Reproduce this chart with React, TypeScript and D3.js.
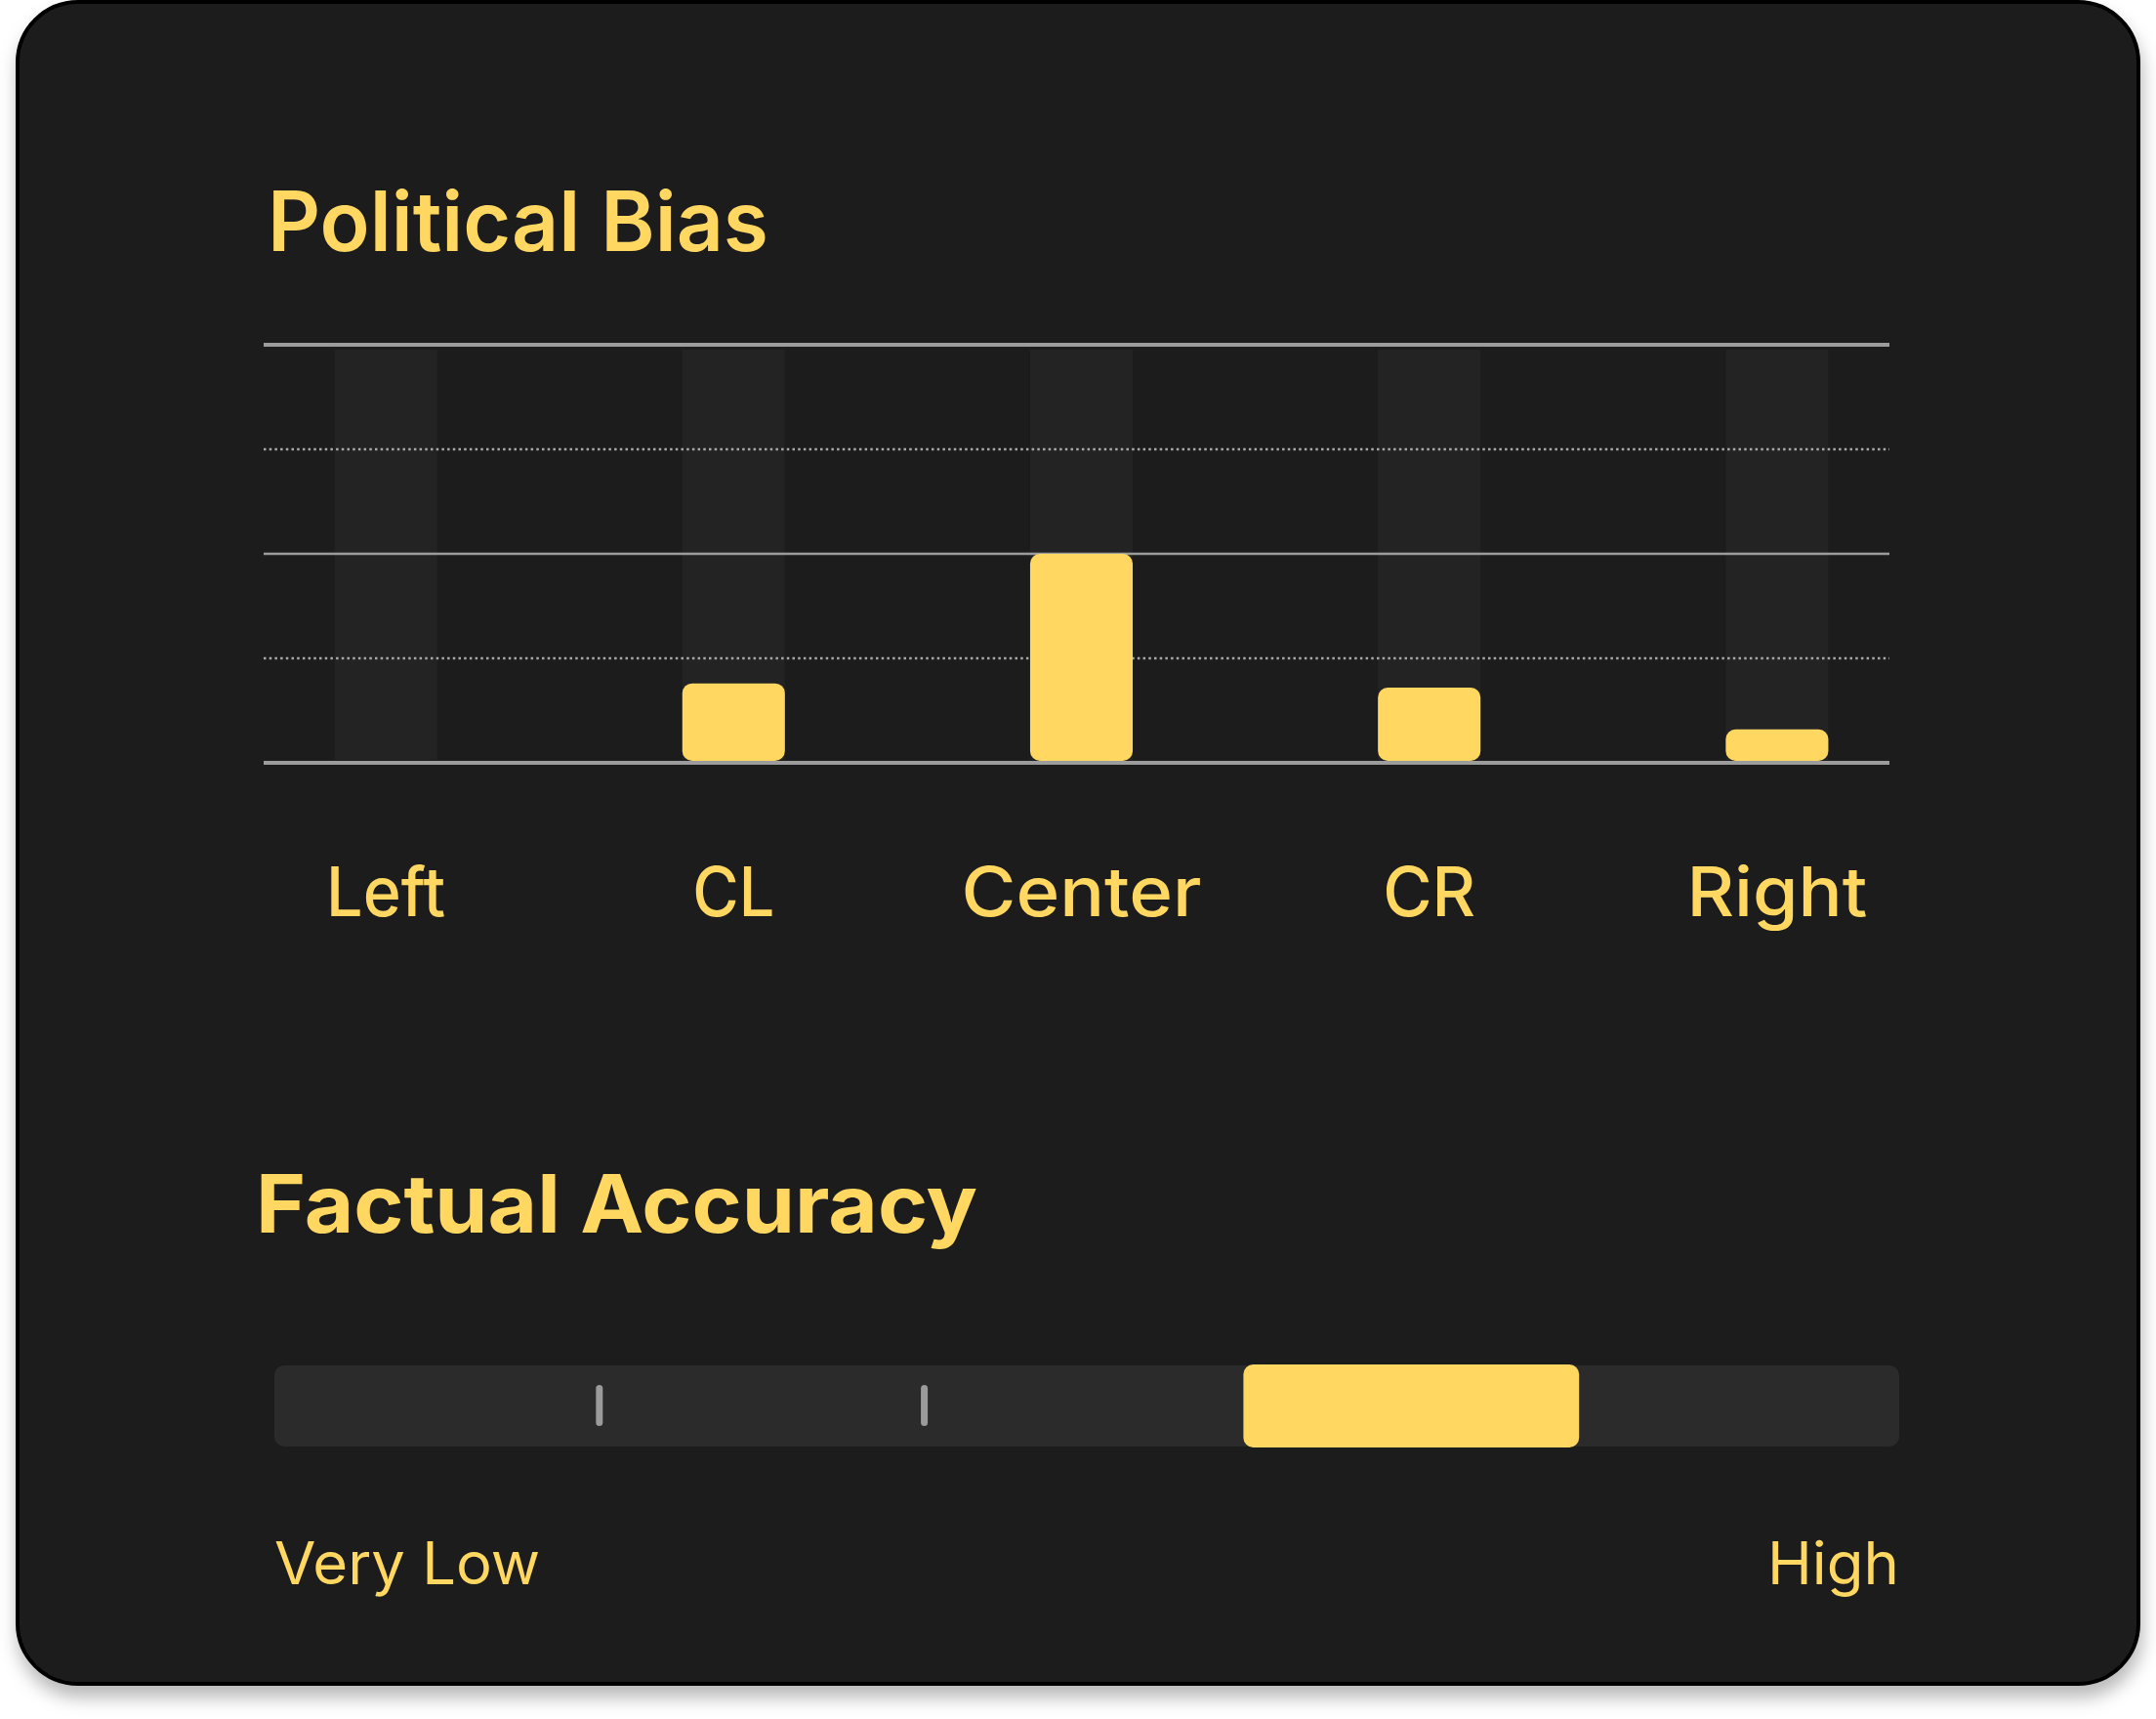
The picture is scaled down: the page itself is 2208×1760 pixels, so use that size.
import React from "react";
import * as d3 from "d3";

const categories = ["Left", "CL", "Center", "CR", "Right"];
const biasValues = [0, 19, 50, 18, 8];
const gridTicks = [0, 25, 50, 75, 100];
const accuracyLevels = ["Very Low", "Low", "Mixed", "Mostly Factual", "High"];
const accuracySelected = "Mostly Factual";
const accuracyEndLabels = ["Very Low", "High"];

const W = 2208;
const H = 1760;
const YELLOW = "#FFD761";
const FONT = "Inter, 'Open Sans', sans-serif";

const labelWidths: Record<string, number> = { Left: 122, CL: 84, Center: 246, CR: 95, Right: 185 };

export default function App() {
  const x = d3
    .scaleBand<string>()
    .domain(categories)
    .range([217, 1998])
    .paddingInner(0.705)
    .paddingOuter(0.3525);
  const y = d3.scaleLinear().domain([0, 100]).range([781, 353]);
  const gridX0 = 270;
  const gridX1 = 1935;

  const acc = d3.scaleBand<string>().domain(accuracyLevels).range([281, 1945]);
  const trackY = 1398;
  const trackH = 83;
  const selIdx = accuracyLevels.indexOf(accuracySelected);
  const tickLevels = accuracyLevels.slice(1).filter((_, i) => {
    const boundary = i + 1;
    return boundary !== selIdx && boundary !== selIdx + 1;
  });

  return (
    <svg
      width={W}
      height={H}
      viewBox={`0 0 ${W} ${H}`}
      style={{ position: "absolute", left: 0, top: 0, background: "#ffffff" }}
    >
      <defs>
        <filter id="shadow" x="-5%" y="-5%" width="110%" height="115%">
          <feDropShadow dx="2" dy="12" stdDeviation="9" floodColor="#000" floodOpacity="0.28" />
        </filter>
      </defs>
      <rect
        x={18}
        y={2}
        width={2172}
        height={1722}
        rx={62}
        ry={62}
        fill="#1e1e1e"
        stroke="#000"
        strokeWidth={4}
        filter="url(#shadow)"
      />

      <text
        x={274}
        y={257}
        fill={YELLOW}
        fontFamily={FONT}
        fontWeight={600}
        fontSize={85}
        textLength={513}
        lengthAdjust="spacingAndGlyphs"
      >
        Political Bias
      </text>

      {/* column bands */}
      {categories.map((c) => (
        <rect
          key={"band-" + c}
          x={x(c)}
          y={358}
          width={x.bandwidth()}
          height={y(0) - 358 - 3}
          fill="#232323"
        />
      ))}

      {/* grid lines */}
      {gridTicks.map((t, i) => {
        const isEdge = i === 0 || i === gridTicks.length - 1;
        const isSolid = i % 2 === 0;
        return (
          <line
            key={"g" + t}
            x1={gridX0}
            x2={gridX1}
            y1={y(t)}
            y2={y(t)}
            stroke={isSolid ? "#9c9c9c" : "#a8a8a8"}
            strokeWidth={isEdge ? 4 : isSolid ? 2.5 : 2.4}
            strokeDasharray={isSolid ? undefined : "2.5,3.2"}
          />
        );
      })}

      {/* bars */}
      {categories.map((c, i) =>
        biasValues[i] > 0 ? (
          <rect
            key={"bar-" + c}
            x={x(c)}
            y={y(biasValues[i])}
            width={x.bandwidth()}
            height={y(0) - y(biasValues[i]) - 2}
            rx={10}
            ry={10}
            fill={YELLOW}
          />
        ) : null
      )}

      {/* category labels */}
      {categories.map((c) => (
        <text
          key={"lab-" + c}
          x={(x(c) as number) + x.bandwidth() / 2}
          y={938}
          textAnchor="middle"
          fill={YELLOW}
          fontFamily={FONT}
          fontWeight={500}
          fontSize={70}
          textLength={labelWidths[c]}
          lengthAdjust="spacingAndGlyphs"
        >
          {c}
        </text>
      ))}

      <text
        x={262}
        y={1262}
        fill={YELLOW}
        fontFamily={FONT}
        fontWeight={700}
        fontSize={82}
        textLength={739}
        lengthAdjust="spacingAndGlyphs"
      >
        Factual Accuracy
      </text>

      {/* accuracy track */}
      <rect
        x={acc.range()[0]}
        y={trackY}
        width={acc.range()[1] - acc.range()[0]}
        height={trackH}
        rx={10}
        ry={10}
        fill="#2b2b2b"
      />
      {tickLevels.map((l) => (
        <rect
          key={"tick-" + l}
          x={(acc(l) as number) - 3.5}
          y={1418}
          width={7}
          height={42}
          rx={3.5}
          ry={3.5}
          fill="#9b9b9b"
        />
      ))}
      <rect
        x={(acc(accuracySelected) as number) - 6}
        y={trackY - 1}
        width={acc.bandwidth() + 11}
        height={trackH + 2}
        rx={10}
        ry={10}
        fill={YELLOW}
      />

      <text
        x={acc.range()[0]}
        y={1622}
        fill={YELLOW}
        fontFamily={FONT}
        fontWeight={400}
        fontSize={60}
        textLength={272}
        lengthAdjust="spacingAndGlyphs"
      >
        {accuracyEndLabels[0]}
      </text>
      <text
        x={acc.range()[1]}
        y={1622}
        textAnchor="end"
        fill={YELLOW}
        fontFamily={FONT}
        fontWeight={400}
        fontSize={60}
        textLength={135}
        lengthAdjust="spacingAndGlyphs"
      >
        {accuracyEndLabels[1]}
      </text>
    </svg>
  );
}
